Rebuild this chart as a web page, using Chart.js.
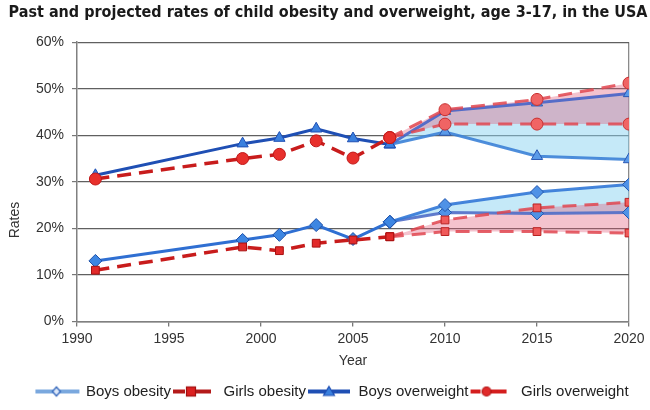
<!DOCTYPE html>
<html>
<head>
<meta charset="utf-8">
<script src="https://cdn.jsdelivr.net/npm/chart.js@4.4.1/dist/chart.umd.min.js"></script>
<style>
html,body{margin:0;padding:0;background:#fff;}
#wrap{width:650px;height:410px;position:relative;}
</style>
</head>
<body>
<div id="wrap"><canvas id="c" width="650" height="410"></canvas></div>
<script>
// ---- data ----
const years = [1991, 1999, 2001, 2003, 2005, 2007];
const projYears = [2007, 2010, 2015, 2020];
const boysObesity = [13.0, 17.5, 18.6, 20.7, 17.7, 21.4];
const boysObesityHigh = [21.4, 25.0, 27.8, 29.4];
const boysObesityLow = [21.4, 23.4, 23.2, 23.4];
const girlsObesity = [11.0, 16.0, 15.2, 16.8, 17.5, 18.2];
const girlsObesityHigh = [18.2, 21.8, 24.4, 25.6];
const girlsObesityLow = [18.2, 19.3, 19.3, 19.0];
const boysOverweight = [31.4, 38.2, 39.4, 41.4, 39.3, 38.0];
const boysOverweightHigh = [38.0, 45.2, 47.0, 49.0];
const boysOverweightLow = [38.0, 40.7, 35.5, 34.8];
const girlsOverweight = [30.6, 35.0, 35.9, 38.8, 35.1, 39.5];
const girlsOverweightHigh = [39.5, 45.5, 47.7, 51.2];
const girlsOverweightLow = [39.5, 42.4, 42.4, 42.4];
const legendLabels = ['Boys obesity', 'Girls obesity', 'Boys overweight', 'Girls overweight'];
const titleText = 'Past and projected rates of child obesity and overweight, age 3-17, in the USA';
const xTitle = 'Year';
const yTitle = 'Rates';

const pts = (xs, ys) => xs.map((x, i) => ({x: x, y: ys[i]}));

const BLUE_DARK = '#1f4fb4';
const BLUE_MID = '#2f6fd2';
const RED = '#c81c1c';
const BOYS_FILL = 'rgba(140,212,242,0.5)';
const GIRLS_FILL = 'rgba(225,90,120,0.36)';
const DASH = [14, 8];

function line(label, data, o) {
  return Object.assign({
    label: label, data: data, borderWidth: 3, pointRadius: 5.5, pointBorderWidth: 1,
    fill: false, tension: 0
  }, o);
}

const datasets = [
  line('Girls overweight', pts(years, girlsOverweight), {borderColor: RED, borderDash: DASH, borderWidth: 3.5,
    pointStyle: 'circle', pointRadius: 6, pointBackgroundColor: '#e8302c', pointBorderColor: '#c01818', order: 1}),
  line('gowh', pts(projYears, girlsOverweightHigh), {borderColor: 'rgba(225,70,80,0.85)', borderDash: DASH,
    pointStyle: 'circle', pointRadius: 6, pointBackgroundColor: '#f06464', pointBorderColor: '#c83030', fill: {target: 2}, backgroundColor: GIRLS_FILL, order: 2}),
  line('gowl', pts(projYears, girlsOverweightLow), {borderColor: 'rgba(225,70,80,0.85)', borderDash: DASH,
    pointStyle: 'circle', pointRadius: 6, pointBackgroundColor: '#f06464', pointBorderColor: '#c83030', order: 2}),
  line('Boys overweight', pts(years, boysOverweight), {borderColor: BLUE_DARK,
    pointStyle: 'triangle', pointRadius: 6.5, pointBackgroundColor: '#3a80de', pointBorderColor: '#1f4fb4', order: 3}),
  line('bowh', pts(projYears, boysOverweightHigh), {borderColor: 'rgba(70,100,200,0.9)',
    pointStyle: 'triangle', pointRadius: 6.5, pointBackgroundColor: '#5a9ae8', pointBorderColor: '#2a58b4', fill: {target: 5}, backgroundColor: BOYS_FILL, order: 4}),
  line('bowl', pts(projYears, boysOverweightLow), {borderColor: 'rgba(60,130,215,0.9)',
    pointStyle: 'triangle', pointRadius: 6.5, pointBackgroundColor: '#5a9ae8', pointBorderColor: '#2a58b4', order: 4}),
  line('Girls obesity', pts(years, girlsObesity), {borderColor: RED, borderDash: DASH, borderWidth: 3.5,
    pointStyle: 'rect', pointRadius: 5.5, pointBackgroundColor: '#e22a2a', pointBorderColor: '#a81010', order: 1}),
  line('gobh', pts(projYears, girlsObesityHigh), {borderColor: 'rgba(225,70,80,0.85)', borderDash: DASH,
    pointStyle: 'rect', pointBackgroundColor: '#f05a5a', pointBorderColor: '#b82020', fill: {target: 8}, backgroundColor: GIRLS_FILL, order: 2}),
  line('gobl', pts(projYears, girlsObesityLow), {borderColor: 'rgba(225,70,80,0.85)', borderDash: DASH,
    pointStyle: 'rect', pointBackgroundColor: '#f05a5a', pointBorderColor: '#b82020', order: 2}),
  line('Boys obesity', pts(years, boysObesity), {borderColor: BLUE_MID,
    pointStyle: 'rectRot', pointRadius: 6.5, pointBackgroundColor: '#3d86e2', pointBorderColor: '#1d50a8', order: 3}),
  line('bobh', pts(projYears, boysObesityHigh), {borderColor: 'rgba(50,120,215,0.9)',
    pointStyle: 'rectRot', pointRadius: 6.5, pointBackgroundColor: '#4f92e6', pointBorderColor: '#2256ae', fill: {target: 11}, backgroundColor: BOYS_FILL, order: 4}),
  line('bobl', pts(projYears, boysObesityLow), {borderColor: 'rgba(80,110,200,0.9)',
    pointStyle: 'rectRot', pointRadius: 6.5, pointBackgroundColor: '#4f92e6', pointBorderColor: '#2256ae', order: 4})
];

// ---- legend images (line + marker) ----
function legendImg(kind) {
  const cv = document.createElement('canvas');
  cv.width = 66; cv.height = 16;
  const g = cv.getContext('2d');
  const cy = 8;
  let x0, x1, mx;
  g.lineCap = 'butt';
  if (kind === 0) { x0 = -1; x1 = 44; mx = 21; g.strokeStyle = '#7aa8de'; g.lineWidth = 4; }
  if (kind === 1) { x0 = -2; x1 = 38; mx = 18; g.strokeStyle = '#b41a1a'; g.lineWidth = 4; }
  if (kind === 2) { x0 = 0; x1 = 42; mx = 21; g.strokeStyle = '#1f4fb4'; g.lineWidth = 4; }
  if (kind === 3) { x0 = -1; x1 = 36; mx = 16; g.strokeStyle = '#d41e1e'; g.lineWidth = 4; }
  x0 = Math.max(x0, 0) + 5; x1 += 5; mx += 5;
  if (kind === 1 || kind === 3) {
    g.beginPath(); g.moveTo(x0, cy); g.lineTo(mx - 6, cy); g.stroke();
    g.beginPath(); g.moveTo(mx + 3, cy); g.lineTo(x1, cy); g.stroke();
  } else {
    g.beginPath(); g.moveTo(x0, cy); g.lineTo(x1, cy); g.stroke();
  }
  g.lineWidth = 1.2;
  if (kind === 0) {
    g.fillStyle = '#dde8f8'; g.strokeStyle = '#2a5fb8';
    g.beginPath(); g.moveTo(mx, cy - 4.5); g.lineTo(mx + 4, cy); g.lineTo(mx, cy + 4.5); g.lineTo(mx - 4, cy); g.closePath(); g.fill(); g.stroke();
  } else if (kind === 1) {
    g.fillStyle = '#dc2020'; g.strokeStyle = '#a01010';
    g.fillRect(mx - 4.5, cy - 4.5, 9, 9); g.strokeRect(mx - 4.5, cy - 4.5, 9, 9);
  } else if (kind === 2) {
    g.fillStyle = '#3a80de'; g.strokeStyle = '#1f4fb4';
    g.beginPath(); g.moveTo(mx, cy - 5); g.lineTo(mx + 5.5, cy + 4); g.lineTo(mx - 5.5, cy + 4); g.closePath(); g.fill(); g.stroke();
  } else {
    g.fillStyle = '#e02a2a'; g.strokeStyle = '#b01414';
    g.beginPath(); g.arc(mx, cy, 4.5, 0, Math.PI * 2); g.fill(); g.stroke();
  }
  return cv;
}
const legendImgs = [legendImg(0), legendImg(1), legendImg(2), legendImg(3)];

const rotatedTitle = {
  id: 'rotatedTitle',
  afterDraw(chart) {
    const ctx = chart.ctx;
    ctx.save();
    ctx.translate(15, 220);
    ctx.rotate(-Math.PI / 2);
    ctx.font = '14px "Liberation Sans", Arial, sans-serif';
    ctx.fillStyle = '#333';
    ctx.textAlign = 'center';
    ctx.textBaseline = 'middle';
    ctx.fillText(yTitle, 0, 0);
    ctx.restore();
  }
};

// shift the legend and title boxes to the reference positions
const boxShift = {
  id: 'boxShift',
  afterLayout(chart) {
    const lg = chart.legend;
    if (lg) {
      const dx = 24;
      const dy = 389 - (lg.top + lg.bottom) / 2;
      lg.left += dx; lg.right += dx;
      lg.top += dy; lg.bottom += dy;
    }
    const tb = chart.titleBlock;
    if (tb) { tb.left = 8; tb.right = 648; }
  }
};

new Chart(document.getElementById('c'), {
  type: 'line',
  data: {datasets: datasets},
  options: {
    responsive: false,
    animation: false,
    devicePixelRatio: 1,
    layout: {padding: {left: 0, right: 21, top: 0, bottom: 0}},
    plugins: {
      filler: {drawTime: 'beforeDatasetsDraw'},
      tooltip: {enabled: false},
      title: {
        display: true, text: titleText, color: '#1a1a1a',
        font: {family: '"DejaVu Sans Condensed", "DejaVu Sans", sans-serif', size: 16, weight: 'bold'},
        padding: {top: 3, bottom: 20}
      },
      legend: {
        position: 'bottom',
        labels: {
          usePointStyle: true, pointStyleWidth: 30, padding: 15, color: '#222',
          font: {family: '"Liberation Sans", Arial, sans-serif', size: 15},
          generateLabels: () => legendLabels.map((t, i) => ({
            text: t, pointStyle: legendImgs[i], fillStyle: 'rgba(0,0,0,0)', strokeStyle: 'rgba(0,0,0,0)',
            lineWidth: 0, hidden: false, datasetIndex: i, fontColor: '#222'
          }))
        }
      }
    },
    scales: {
      x: {
        type: 'linear', min: 1990, max: 2020,
        ticks: {stepSize: 5, color: '#333', padding: 4, font: {family: '"Liberation Sans", Arial, sans-serif', size: 14},
          callback: v => String(v)},
        grid: {
          color: c => (c.tick && c.tick.value === 2020) ? '#8a8a8a' : 'rgba(0,0,0,0)',
          tickColor: '#777', tickLength: 5, lineWidth: 1.3
        },
        border: {color: '#808080', width: 1.5},
        title: {display: true, text: xTitle, color: '#333', padding: {top: 2, bottom: 0},
          font: {family: '"Liberation Sans", Arial, sans-serif', size: 14}}
      },
      y: {
        min: 0, max: 60,
        afterFit: s => { s.width = 77; },
        ticks: {stepSize: 10, color: '#333', padding: 8, font: {family: '"Liberation Sans", Arial, sans-serif', size: 14},
          callback: v => v + '%'},
        grid: {color: '#606060', tickColor: '#777', tickLength: 5, lineWidth: 1.2},
        border: {color: '#808080', width: 1.5}
      }
    }
  },
  plugins: [rotatedTitle, boxShift]
});
</script>
</body>
</html>
